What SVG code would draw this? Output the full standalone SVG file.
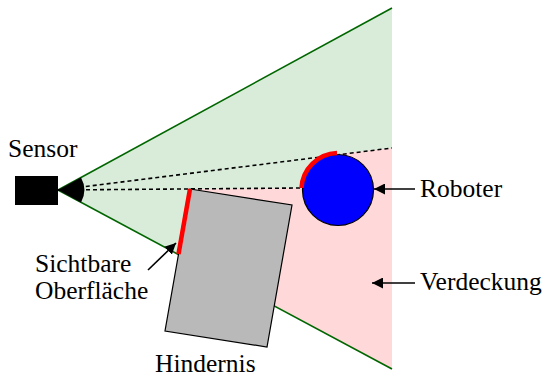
<svg xmlns="http://www.w3.org/2000/svg" width="550" height="378" viewBox="0 0 550 378">
<style>
text{font-family:"Liberation Serif","DejaVu Serif",serif;font-size:25.5px;fill:#000}
.cone{stroke:#006600;stroke-width:1.6;fill:none}
.dash{stroke:#000;stroke-width:1.6;stroke-dasharray:4 3;fill:none}
.vis{stroke:#ff0000;stroke-width:4.5;fill:none}
.arr{stroke:#000;stroke-width:1.6;fill:none;marker-end:url(#ah)}
</style>
<defs>
<marker id="ah" viewBox="0 0 10 10" refX="10" refY="5" markerWidth="11" markerHeight="11" markerUnits="userSpaceOnUse" orient="auto">
<path d="M0,0 L10,5 L0,10 Z" fill="#000"/>
</marker>
</defs>
<rect width="550" height="378" fill="#fff"/>
<g id="field">
<polygon points="58,190 392,8 392,369" fill="#d9ecd9"/>
<polygon points="190,189 302,188 338,154 392,148 392,369 178,253" fill="#ffd9d9"/>
<line class="cone" x1="58" y1="190" x2="392" y2="8"/>
<line class="cone" x1="58" y1="190" x2="392" y2="369"/>
</g>
<g id="rays">
<line class="dash" x1="58" y1="190" x2="392" y2="148"/>
<line class="dash" x1="58" y1="190" x2="302" y2="188"/>
</g>
<g id="sensor">
<rect x="15" y="176" width="43" height="29" fill="#000"/>
<path d="M58,190 L81,177.5 A26,26 0 0 1 81,202.5 Z" fill="#000"/>
<text x="8" y="157">Sensor</text>
</g>
<g id="obstacle">
<polygon points="190,189 292,205 267,347 165,331" fill="#b9b9b9" stroke="#000" stroke-width="1.2"/>
<line class="vis" x1="190" y1="189" x2="178.5" y2="254"/>
<text x="155" y="372">Hindernis</text>
</g>
<g id="robot">
<circle cx="338" cy="190" r="35.5" fill="#0000ff" stroke="#000" stroke-width="1.2"/>
<path class="vis" d="M301.5,188 A37,37 0 0 1 337,153"/>
<text x="420" y="197">Roboter</text>
</g>
<g id="occlusion">
<text x="420" y="290">Verdeckung</text>
</g>
<g id="surface-label">
<text x="35" y="272">Sichtbare</text>
<text x="35" y="299">Oberfläche</text>
</g>
<g id="connectors">
<line class="arr" x1="415" y1="189" x2="374" y2="189"/>
<line class="arr" x1="415" y1="283" x2="372" y2="283"/>
<line class="arr" x1="148" y1="270" x2="176" y2="243"/>
</g>
</svg>
